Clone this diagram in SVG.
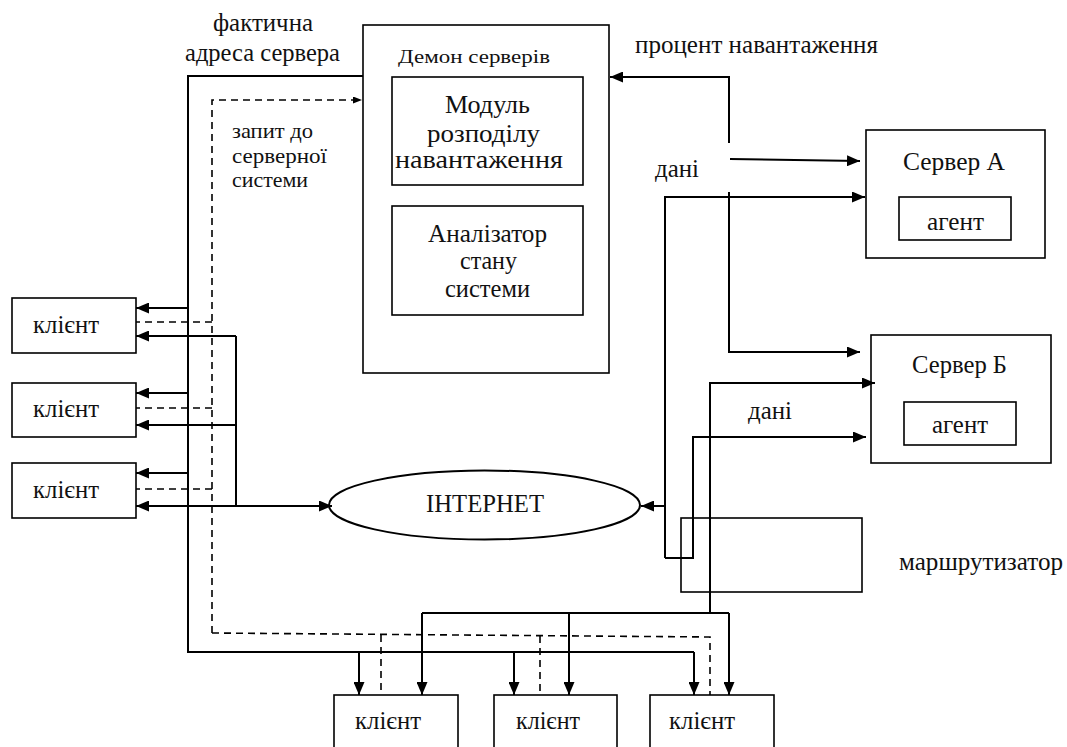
<svg xmlns="http://www.w3.org/2000/svg" width="1067" height="747" viewBox="0 0 1067 747">
<style>
.box{fill:#fff;stroke:#000;stroke-width:1.6}
.ln{fill:none;stroke:#000;stroke-width:2}
.ds{fill:none;stroke:#000;stroke-width:1.6;stroke-dasharray:7 5}
.t text{fill:#111;font-size:25px}
.t .sm{font-size:18px}
.t .q{font-size:22px}
</style>
<defs>
<marker id="ah" viewBox="0 0 13 11" refX="13" refY="5.5" markerWidth="13" markerHeight="11" markerUnits="userSpaceOnUse" orient="auto-start-reverse">
<path d="M0,0 L13,5.5 L0,11 z" fill="#000"/>
</marker>
<marker id="ahs" viewBox="0 0 9 7" refX="9" refY="3.5" markerWidth="9" markerHeight="7" markerUnits="userSpaceOnUse" orient="auto">
<path d="M0,0 L9,3.5 L0,7 z" fill="#000"/>
</marker>
</defs>
<rect width="1067" height="747" fill="#fff"/>
<g class="t" font-family="'Liberation Serif', 'DejaVu Serif', 'Times New Roman', serif">

<g id="labels">
<text x="213" y="31" textLength="100" lengthAdjust="spacingAndGlyphs">фактична</text>
<text x="185" y="61" textLength="155" lengthAdjust="spacingAndGlyphs">адреса сервера</text>
<text class="q" x="232" y="138" textLength="81" lengthAdjust="spacingAndGlyphs">запит до</text>
<text class="q" x="232" y="163" textLength="95" lengthAdjust="spacingAndGlyphs">серверної</text>
<text class="q" x="232" y="187" textLength="76" lengthAdjust="spacingAndGlyphs">системи</text>
<text x="635" y="53" textLength="243" lengthAdjust="spacingAndGlyphs">процент навантаження</text>
<text x="655" y="177" textLength="44" lengthAdjust="spacingAndGlyphs">дані</text>
<text x="748" y="419" textLength="44" lengthAdjust="spacingAndGlyphs">дані</text>
<text x="899" y="570" textLength="164" lengthAdjust="spacingAndGlyphs">маршрутизатор</text>
</g>

<g id="daemon">
<rect class="box" x="363" y="25" width="246" height="348"/>
<text class="sm" x="398" y="63" textLength="152" lengthAdjust="spacingAndGlyphs">Демон серверів</text>
</g>
<g id="module">
<rect class="box" x="392" y="77" width="191" height="108"/>
<text x="445" y="113" textLength="85" lengthAdjust="spacingAndGlyphs">Модуль</text>
<text x="427" y="142" textLength="113" lengthAdjust="spacingAndGlyphs">розподілу</text>
<text x="395" y="168" textLength="168" lengthAdjust="spacingAndGlyphs">навантаження</text>
</g>
<g id="analyzer">
<rect class="box" x="392" y="206" width="191" height="109"/>
<text x="428" y="242" textLength="119" lengthAdjust="spacingAndGlyphs">Аналізатор</text>
<text x="460" y="269" textLength="57" lengthAdjust="spacingAndGlyphs">стану</text>
<text x="445" y="297" textLength="85" lengthAdjust="spacingAndGlyphs">системи</text>
</g>
<g id="serverA">
<rect class="box" x="866" y="130" width="179" height="128"/>
<text x="903" y="170" textLength="102" lengthAdjust="spacingAndGlyphs">Сервер А</text>
<rect class="box" x="899" y="197" width="112" height="43"/>
<text x="927" y="230" textLength="57" lengthAdjust="spacingAndGlyphs">агент</text>
</g>
<g id="serverB">
<rect class="box" x="871" y="335" width="180" height="128"/>
<text x="912" y="373" textLength="95" lengthAdjust="spacingAndGlyphs">Сервер Б</text>
<rect class="box" x="904" y="402" width="112" height="43"/>
<text x="932" y="433" textLength="56" lengthAdjust="spacingAndGlyphs">агент</text>
</g>
<g id="router">
<rect x="681" y="518" width="181" height="74" fill="none" stroke="#000" stroke-width="1.6"/>
</g>
<g id="internet">
<ellipse cx="484.5" cy="505" rx="155.5" ry="34.5" fill="#fff" stroke="#000" stroke-width="2"/>
<text x="426" y="512" textLength="118" lengthAdjust="spacingAndGlyphs">ІНТЕРНЕТ</text>
</g>
<g id="client1">
<rect class="box" x="12" y="298" width="124" height="55"/>
<text x="33" y="333" textLength="66" lengthAdjust="spacingAndGlyphs">клієнт</text>
</g>
<g id="client2">
<rect class="box" x="12" y="383" width="124" height="54"/>
<text x="33" y="417" textLength="66" lengthAdjust="spacingAndGlyphs">клієнт</text>
</g>
<g id="client3">
<rect class="box" x="12" y="463" width="124" height="55"/>
<text x="33" y="498" textLength="66" lengthAdjust="spacingAndGlyphs">клієнт</text>
</g>
<g id="client4">
<rect class="box" x="334" y="695" width="124" height="70"/>
<text x="355" y="729" textLength="66" lengthAdjust="spacingAndGlyphs">клієнт</text>
</g>
<g id="client5">
<rect class="box" x="494" y="695" width="123" height="70"/>
<text x="516" y="729" textLength="64" lengthAdjust="spacingAndGlyphs">клієнт</text>
</g>
<g id="client6">
<rect class="box" x="650" y="695" width="124" height="70"/>
<text x="669" y="729" textLength="66" lengthAdjust="spacingAndGlyphs">клієнт</text>
</g>
</g>

<g id="connectors">
<path class="ln" d="M363,76 H188 V652 H694"/>
<path class="ln" d="M188,308 H136" marker-end="url(#ah)"/>
<path class="ln" d="M188,393 H136" marker-end="url(#ah)"/>
<path class="ln" d="M188,473 H136" marker-end="url(#ah)"/>
<path class="ln" d="M359,652 V695" marker-end="url(#ah)"/>
<path class="ln" d="M514,652 V695" marker-end="url(#ah)"/>
<path class="ln" d="M694,652 V695" marker-end="url(#ah)"/>
<path class="ds" d="M212,633 V100 H362" marker-end="url(#ahs)"/>
<path class="ds" d="M212,322 H136"/>
<path class="ds" d="M212,408 H136"/>
<path class="ds" d="M212,489 H136"/>
<path class="ds" d="M212,633 L710,637 V695"/>
<path class="ds" d="M381,635 V695"/>
<path class="ds" d="M540,636 V695"/>
<path class="ln" d="M236,336 V506"/>
<path class="ln" d="M236,336 H136" marker-end="url(#ah)"/>
<path class="ln" d="M236,425 H136" marker-end="url(#ah)"/>
<path class="ln" d="M136,506 H332" marker-start="url(#ah)" marker-end="url(#ah)"/>
<path class="ln" d="M729,143 V77 H610" marker-end="url(#ah)"/>
<path class="ln" d="M730,159 L860,161" marker-end="url(#ah)"/>
<path class="ln" d="M729,192 V352 H860" marker-end="url(#ah)"/>
<path class="ln" d="M665,558 V197 H865" marker-end="url(#ah)"/>
<path class="ln" d="M665,558 H693 V437 H866" marker-end="url(#ah)"/>
<path class="ln" d="M665,506 H641" marker-end="url(#ah)"/>
<path class="ln" d="M710,613 V383 H875" marker-end="url(#ah)"/>
<path class="ln" d="M422,613 H729"/>
<path class="ln" d="M422,613 V695" marker-end="url(#ah)"/>
<path class="ln" d="M569,613 V695" marker-end="url(#ah)"/>
<path class="ln" d="M729,613 V695" marker-end="url(#ah)"/>
</g>
</svg>
